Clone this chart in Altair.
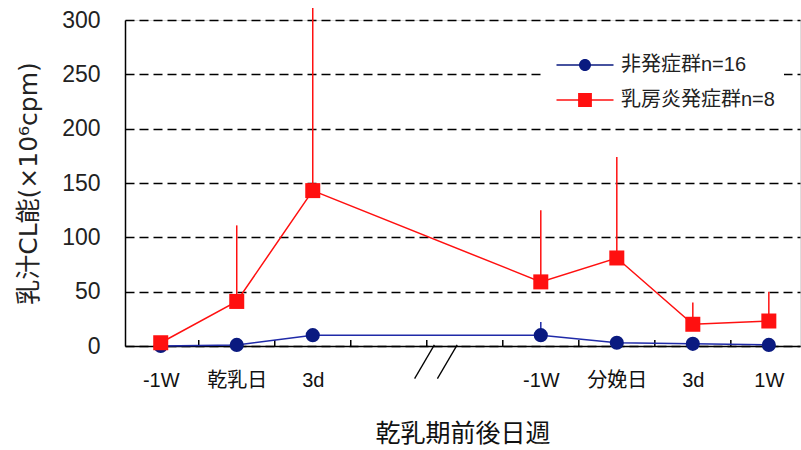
import altair as alt
import pandas as pd

# ---- data ----
positions = [0, 1, 2, 5, 6, 7, 8]
slot_labels = ["-1W", "乾乳日", "3d", "", "", "-1W", "分娩日", "3d", "1W"]
groups = ["非発症群n=16", "乳房炎発症群n=8"]
blue_mean = [0, 1, 10, 10, 3, 2, 1]
blue_upper = [0, 1, 10, 22, 3, 2, 1]
red_mean = [3, 41, 143, 59, 81, 20, 23]
red_upper = [3, 111, 311, 125, 174, 40, 50]
tick_bounds = [0.5, 1.5, 2.5, 3.5, 4.5, 5.5, 6.5, 7.5]
break_x = [3.34, 3.64]
break_x2 = [3.6, 3.9]
break_y = [-30, -30]
break_y2 = [1, 1]

BLUE_LINE = "#1f2aa8"
BLUE_MARK = "#0a1a80"
RED = "#ff1010"
FONT = "Liberation Sans, Noto Sans CJK JP, sans-serif"
TFONT = "DejaVu Sans, Noto Sans CJK JP, sans-serif"

rows = []
for g, means, ups in [(groups[0], blue_mean, blue_upper), (groups[1], red_mean, red_upper)]:
    for p, m, u in zip(positions, means, ups):
        rows.append({"group": g, "pos": p, "value": m, "upper": u})
df = pd.DataFrame(rows)
ticks_df = pd.DataFrame({"b": tick_bounds})
break_df = pd.DataFrame({"x": break_x, "x2": break_x2, "y": break_y, "y2": break_y2})

label_array = "[" + ",".join("'" + s + "'" for s in slot_labels) + "]"

xscale = alt.Scale(domain=[-0.47, 8.41], nice=False, zero=False)
yscale = alt.Scale(domain=[0, 300], nice=False)

x_axis = alt.Axis(
    values=positions, labelExpr=label_array + "[datum.value]", ticks=False, grid=False,
    domainColor="black", domainWidth=1.5, labelFont=FONT, labelFontSize=20,
    labelColor="#111", labelPadding=24, title="乾乳期前後日週", titleFont=FONT,
    titleFontSize=25, titleFontWeight="normal", titleColor="#111", titlePadding=31,
)
y_axis = alt.Axis(
    values=[0, 50, 100, 150, 200, 250, 300], ticks=False, grid=True, gridDash=[9, 5],
    gridColor="black", gridWidth=1.5, domainColor="black", domainWidth=1.5,
    labelFont=FONT, labelFontSize=23, labelColor="#222", labelPadding=25,
    title="乳汁CL能(×10⁶cpm)", titleFont=TFONT, titleFontSize=25,
    titleFontWeight="normal", titleColor="#222", titlePadding=20,
)

base = alt.Chart(df)

axes_layer = base.mark_point(opacity=0).encode(
    x=alt.X("pos:Q", scale=xscale, axis=x_axis),
    y=alt.Y("value:Q", scale=yscale, axis=y_axis),
)

ticks_layer = alt.Chart(ticks_df).mark_rule(color="black", strokeWidth=1.5).encode(
    x=alt.X("b:Q", scale=xscale), y=alt.datum(0), y2=alt.datum(5.5)
)

break_layer = alt.Chart(break_df).mark_rule(color="black", strokeWidth=1.3).encode(
    x=alt.X("x:Q", scale=xscale), x2="x2:Q", y=alt.Y("y:Q", scale=yscale), y2="y2:Q"
)


def series(gname, line_color, mark_color, shape, size):
    d = base.transform_filter(alt.datum.group == gname)
    err = d.mark_rule(color=line_color, strokeWidth=1.5).encode(
        x=alt.X("pos:Q", scale=xscale), y=alt.Y("value:Q", scale=yscale), y2="upper:Q"
    )
    line = d.mark_line(color=line_color, strokeWidth=1.5).encode(
        x=alt.X("pos:Q", scale=xscale), y=alt.Y("value:Q", scale=yscale)
    )
    pts = d.mark_point(filled=True, opacity=1, color=mark_color, shape=shape, size=size).encode(
        x=alt.X("pos:Q", scale=xscale), y=alt.Y("value:Q", scale=yscale)
    )
    return [err, line, pts]


blue_layers = series(groups[0], BLUE_LINE, BLUE_MARK, "circle", 200)
red_layers = series(groups[1], RED, RED, "square", 225)

# legend symbols: a line with a marker, drawn as one filled path
blue_sym = "M-1,-0.1H6.6V0.1H-1ZM2.0,0A0.8,0.8,0,1,1,3.6,0A0.8,0.8,0,1,1,2.0,0Z"
red_sym = "M-1,-0.1H6.6V0.1H-1ZM1.88,-0.92H3.72V0.92H1.88Z"
leg = alt.Legend(
    title=None, orient="none", legendX=420, legendY=26, fillColor="white",
    padding=9, labelFont=FONT, labelFontSize=20, labelColor="#222", labelOffset=47,
    symbolSize=225, symbolStrokeWidth=0, rowPadding=15, labelLimit=300,
)
legend_layer = base.mark_point(filled=True, opacity=1, size=225).encode(
    x=alt.X("pos:Q", scale=xscale),
    y=alt.Y("value:Q", scale=yscale),
    color=alt.Color("group:N", scale=alt.Scale(domain=groups, range=[BLUE_MARK, RED]), legend=leg),
    shape=alt.Shape("group:N", scale=alt.Scale(domain=groups, range=[blue_sym, red_sym]), legend=leg),
).transform_filter("false")

chart = alt.layer(
    axes_layer, ticks_layer, break_layer, *blue_layers, *red_layers, legend_layer
).properties(
    width=675, height=326,
    autosize=alt.AutoSizeParams(type="none"),
    padding={"left": 125, "top": 20, "right": 1, "bottom": 104},
).configure_view(stroke=None).configure(background="white")

chart.save("out.html", embed_options={"renderer": "svg", "actions": False})
